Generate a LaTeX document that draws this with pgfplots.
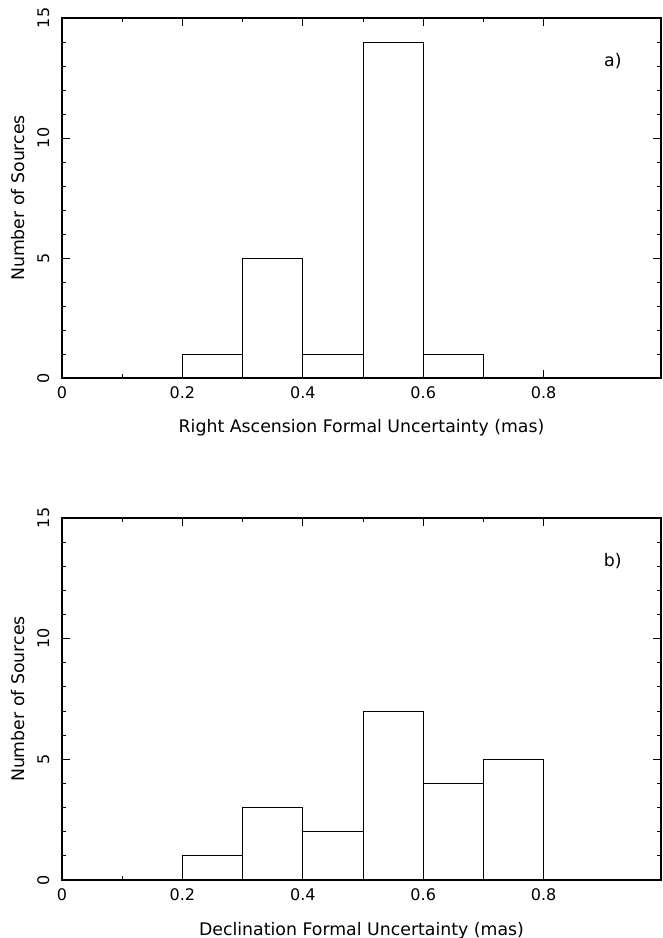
\documentclass[border=0pt]{standalone}
\usepackage{fontspec}
\setmainfont{DejaVu Sans}
\usepackage{pgfplots}
\pgfplotsset{compat=1.18}

\pgfplotsset{
  histo/.style={
    scale only axis,
    width=449.25pt,
    xmin=0, xmax=0.995,
    ymin=0, ymax=15,
    xtick={0,0.2,0.4,0.6,0.8},
    xticklabels={0,0.2,0.4,0.6,0.8},
    ytick={0,5,10,15},
    minor x tick num=1,
    minor y tick num=4,
    tick align=inside,
    major tick length=6pt,
    minor tick length=3pt,
    axis line style={line width=0.9pt},
    tick style={black, line width=0.7pt},
    /pgf/number format/assume math mode=true,
    tick label style={font=\fontsize{12}{14}\selectfont},
    label style={font=\fontsize{13}{15}\selectfont},
    yticklabel style={rotate=90, anchor=south},
    xticklabel shift=3pt,
    yticklabel shift=6pt,
    ylabel={Number of Sources},
    ylabel style={at={(axis description cs:-0.0736,0.5)}, anchor=center},
    xlabel style={at={(axis description cs:0.5,-0.139)}, anchor=center},
  }
}

\begin{document}
\begin{tikzpicture}
\useasboundingbox (0,0) rectangle (496.5pt,703.5pt);

% a) right ascension
\begin{axis}[histo, height=270pt, at={(46.5pt,420pt)}, anchor=south west,
  xlabel={Right Ascension Formal Uncertainty (mas)}]
\addplot[ybar interval, draw=black, fill=none, line width=0.7pt] coordinates {
  (0.2,1) (0.3,5) (0.4,1) (0.5,14) (0.6,1) (0.7,0)
};
\node[font=\fontsize{13}{15}\selectfont] at (axis cs:0.915,13.2) {a)};
\end{axis}

% b) declination
\begin{axis}[histo, height=271.5pt, at={(46.5pt,43.5pt)}, anchor=south west,
  xlabel={Declination Formal Uncertainty (mas)}]
\addplot[ybar interval, draw=black, fill=none, line width=0.7pt] coordinates {
  (0.2,1) (0.3,3) (0.4,2) (0.5,7) (0.6,4) (0.7,5) (0.8,0)
};
\node[font=\fontsize{13}{15}\selectfont] at (axis cs:0.915,13.2) {b)};
\end{axis}
\end{tikzpicture}
\end{document}
